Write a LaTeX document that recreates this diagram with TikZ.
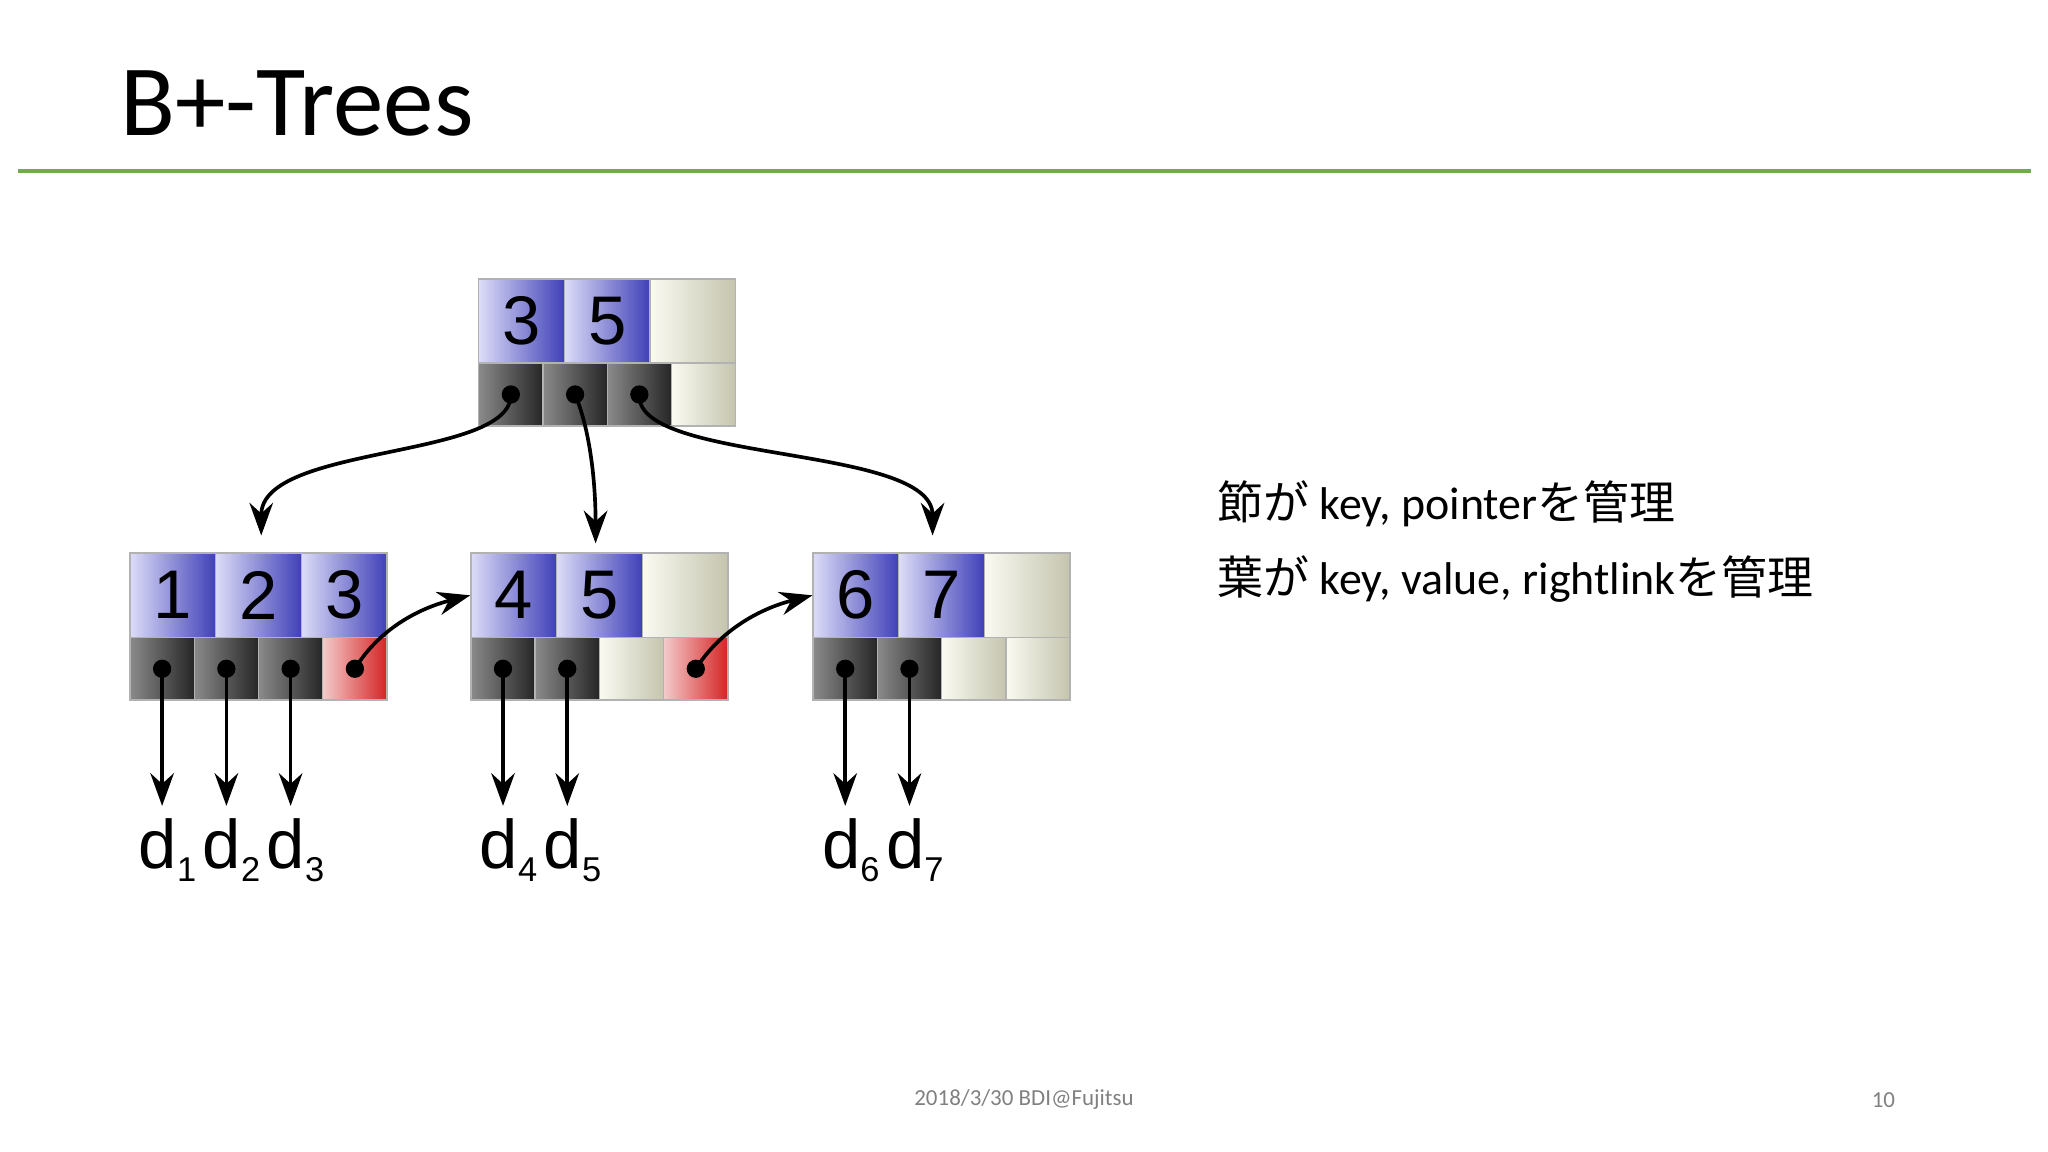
\documentclass[tikz,border=0pt]{standalone}
\usepackage{fontspec}
\setmainfont{Carlito}
\newfontfamily\jp{Noto Sans CJK JP}
\newfontfamily\tf{Liberation Sans}
\usetikzlibrary{arrows.meta}
\definecolor{blA}{HTML}{DCDCF8}\definecolor{blB}{HTML}{4040B8}
\definecolor{dkA}{HTML}{8A8A8A}\definecolor{dkB}{HTML}{262626}
\definecolor{crA}{HTML}{FAFAF2}\definecolor{crB}{HTML}{C4C4AE}
\definecolor{rdA}{HTML}{F4CACA}\definecolor{rdB}{HTML}{D42424}
\definecolor{grn}{HTML}{70AD47}
\tikzset{
 cell/.style={draw=gray!60, line width=0.6pt, inner sep=0pt, shading angle=45, anchor=north west},
 kb/.style={cell, left color=blA, right color=blB, minimum width=1.312cm, minimum height=1.29cm, font=\tf\fontsize{30}{30}\selectfont},
 kc/.style={cell, left color=crA, right color=crB, minimum width=1.312cm, minimum height=1.29cm},
 pd/.style={cell, left color=dkA, right color=dkB, minimum width=0.984cm, minimum height=0.96cm},
 pc/.style={cell, left color=crA, right color=crB, minimum width=0.984cm, minimum height=0.96cm},
 pr/.style={cell, left color=rdA, right color=rdB, minimum width=0.984cm, minimum height=0.96cm},
 arr/.style={line width=1.6pt, -{Stealth[length=0.5cm,width=0.36cm]}},
 dlab/.style={anchor=base west, inner sep=0pt, font=\tf\fontsize{30}{30}\selectfont},
}
\newcommand\btnode[5]{% x y name keys ptrs
 \foreach \s/\t [count=\i from 0] in {#4} {\node[\s] (#3k\i) at (#1+\i*65.6,#2) {\t};}
 \foreach \s [count=\i from 0] in {#5} {\node[\s] (#3p\i) at (#1+\i*49.2,#2+64.5) {};}
}
\begin{document}
\begin{tikzpicture}[x=0.02cm,y=-0.02cm]
\useasboundingbox (0,0) rectangle (1568,882);
\node[anchor=base west, inner sep=0pt, font=\fontsize{44}{44}\selectfont] (title) at (92,104) {B+-Trees};
\draw[grn, line width=1.4pt] (14,131) coordinate (gl) -- (1555,131) coordinate (gr);
% nodes
\btnode{366}{213}{r}{kb/3,kb/5,kc/}{pd,pd,pd,pc}
\btnode{99}{423}{a}{kb/1,kb/2,kb/3}{pd,pd,pd,pr}
\btnode{360}{423}{b}{kb/4,kb/5,kc/}{pd,pd,pc,pr}
\btnode{622}{423}{c}{kb/6,kb/7,kc/}{pd,pd,pc,pc}
% dots
\foreach \n in {rp0,rp1,rp2,ap0,ap1,ap2,ap3,bp0,bp1,bp3,cp0,cp1}{\fill (\n.center) circle (7);}
\coordinate (ta) at (200,410);
\coordinate (tb) at (456,416);
\coordinate (tc) at (714,410);
\draw[arr] (rp0.center) .. controls (392,352) and (200,340) .. (ta);
\draw[arr] (rp1.center) .. controls (452,330) and (456,370) .. (tb);
\draw[arr] (rp2.center) .. controls (486,355) and (714,340) .. (tc);
\draw[arr] (ap3.center) .. controls (290,482) and (320,466) .. (bk0.west);
\draw[arr] (bp3.center) .. controls (552,482) and (582,466) .. (ck0.west);
% data labels
\foreach \p/\k/\xx in {ap0/1/106,ap1/2/155,ap2/3/204,bp0/4/367,bp1/5/416,cp0/6/629,cp1/7/678}{
 \node[dlab] (d\k) at (\xx,665) {d\raisebox{-0.35ex}{\fontsize{15}{15}\selectfont\k}};
 \draw[arr] (\p.center) -- (\p.center |- 0,617);
}
\node[anchor=base west, inner sep=0pt, font=\fontsize{20}{20}\selectfont] (t1) at (932,398) {{\jp 節が} key, pointer{\jp を管理}};
\node[anchor=base west, inner sep=0pt, font=\fontsize{20}{20}\selectfont] (t2) at (932,455) {{\jp 葉が} key, value, rightlink{\jp を管理}};
\node[font=\fontsize{10}{10}\selectfont, text=gray] (foot) at (784,842) {2018/3/30 BDI@Fujitsu};
\node[font=\fontsize{10}{10}\selectfont, text=gray] (pg) at (1442,842) {10};
\end{tikzpicture}
\end{document}
